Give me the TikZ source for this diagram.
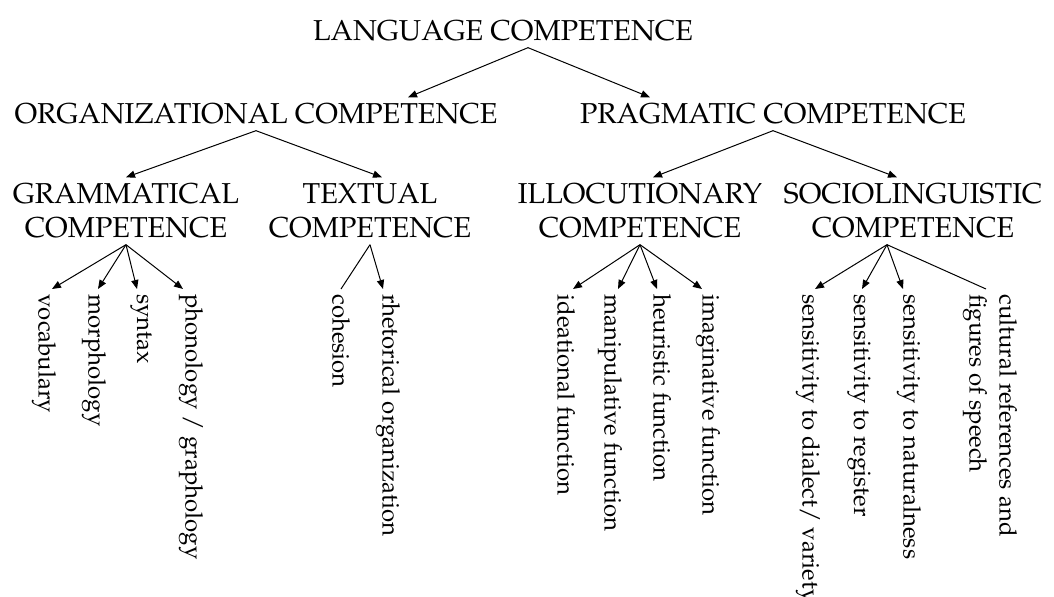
\documentclass[tikz,border=0pt]{standalone}
\usepackage[T1]{fontenc}
\usepackage{mathpazo}
\usetikzlibrary{arrows.meta}

\tikzset{
  comp/.style={align=center, inner xsep=0pt, inner ysep=3pt, font=\fontsize{14.4}{17}\selectfont},
  leaf/.style={rotate=-90, anchor=west, align=left, inner xsep=2.5pt, inner ysep=0pt, font=\fontsize{12}{15}\selectfont},
  arr/.style={-{Triangle[length=4.5pt,width=3.6pt]}, line width=0.5pt},
  stem/.style={line width=0.5pt},
}

\begin{document}
\begin{tikzpicture}[x=0.5pt, y=-0.5pt]
        \useasboundingbox (0,0) rectangle (1054,597);
        % top levels
        \node[comp] (lang) at (503,31) {LANGUAGE COMPETENCE};
        \node[comp] (org) at (256,114) {ORGANIZATIONAL COMPETENCE};
        \node[comp] (prag) at (773,114) {PRAGMATIC COMPETENCE};
        \node[comp] (gram) at (126,211) {GRAMMATICAL\\COMPETENCE};
        \node[comp] (textc) at (370,211) {TEXTUAL\\COMPETENCE};
        \node[comp] (illo) at (640,211) {ILLOCUTIONARY\\COMPETENCE};
        \node[comp] (socio) at (913,211) {SOCIOLINGUISTIC\\COMPETENCE};
        % leaves
        \node[leaf] (voc) at (44,289) {vocabulary};
        \node[leaf] (morph) at (94,289) {morphology};
        \node[leaf] (syn) at (141,289) {syntax};
        \node[leaf] (phon) at (191,289) {phonology / graphology};
        \node[leaf] (coh) at (341,289) {cohesion};
        \node[leaf] (rhet) at (388,289) {rhetorical organization};
        \node[leaf] (idea) at (566,289) {ideational function};
        \node[leaf] (manip) at (610,289) {manipulative function};
        \node[leaf] (heur) at (662,289) {heuristic function};
        \node[leaf] (imag) at (708,289) {imaginative function};
        \node[leaf] (dial) at (808,289) {sensitivity to dialect/ variety};
        \node[leaf] (reg) at (859,289) {sensitivity to register};
        \node[leaf] (nat) at (909,289) {sensitivity to naturalness};
        \node[leaf] (cult) at (990,289) {cultural references and\\figures of speech};
        % arrows
        \draw[arr] ([xshift=12.5pt]lang.south) -- ([xshift=76pt]org.north);
        \draw[arr] ([xshift=12.5pt]lang.south) -- ([xshift=-61.5pt]prag.north);
        \draw[arr] (org.south) -- (gram.north);
        \draw[arr] (org.south) -- ([xshift=6pt]textc.north);
        \draw[arr] (prag.south) -- ([xshift=6.5pt]illo.north);
        \draw[arr] (prag.south) -- ([xshift=-8pt]socio.north);
        \draw[arr] (gram.south) -- ([xshift=4pt]voc.west);
        \draw[arr] (gram.south) -- ([xshift=2pt]morph.west);
        \draw[arr] (gram.south) -- ([xshift=-2pt]syn.west);
        \draw[arr] (gram.south) -- ([xshift=-4pt]phon.west);
        \draw[stem] (textc.south) -- (coh.west);
        \draw[arr] (textc.south) -- ([xshift=-2.5pt]rhet.west);
        \draw[arr] (illo.south) -- ([xshift=3.5pt]idea.west);
        \draw[arr] (illo.south) -- ([xshift=4pt]manip.west);
        \draw[arr] (illo.south) -- ([xshift=-2.5pt]heur.west);
        \draw[arr] (illo.south) -- ([xshift=-3pt]imag.west);
        \draw[arr] ([xshift=-13pt]socio.south) -- ([xshift=3.5pt]dial.west);
        \draw[arr] ([xshift=-13pt]socio.south) -- ([xshift=1.5pt]reg.west);
        \draw[arr] ([xshift=-13pt]socio.south) -- ([xshift=-3pt]nat.west);
        \draw[stem] ([xshift=-13pt]socio.south) -- ([xshift=-2pt]cult.west);
\end{tikzpicture}
\end{document}
